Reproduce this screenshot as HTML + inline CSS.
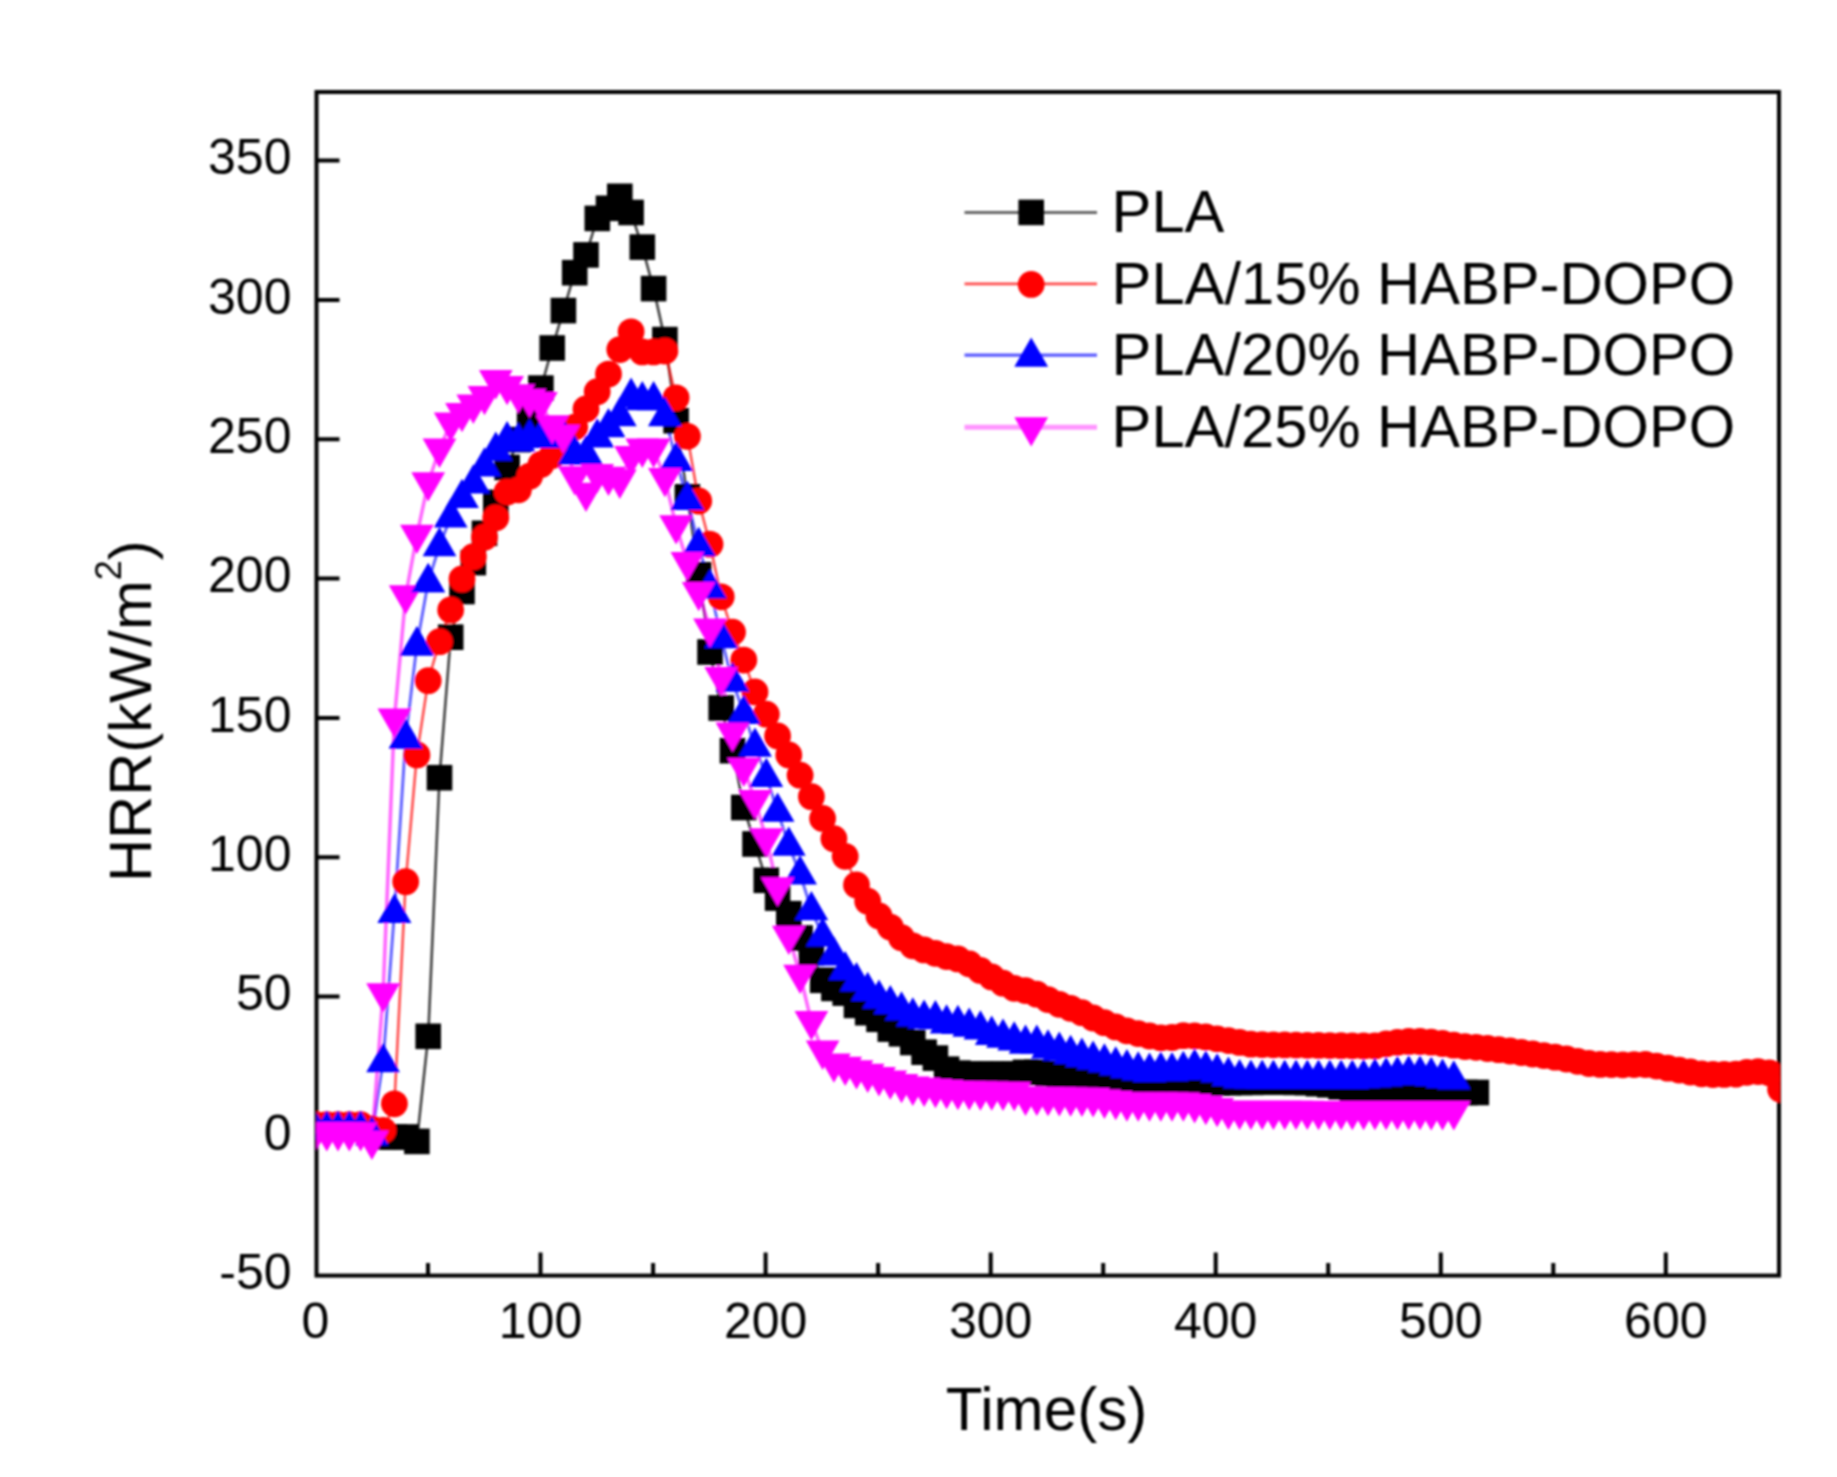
<!DOCTYPE html>
<html><head><meta charset="utf-8"><title>HRR</title><style>html,body{margin:0;padding:0;background:#fff}svg{display:block}</style></head><body>
<svg width="1837" height="1477" viewBox="0 0 1837 1477" font-family="'Liberation Sans', Arial, sans-serif" fill="#000"><defs><clipPath id="c"><rect x="316.5" y="92" width="1463.4" height="1183.6"/></clipPath><filter id="b" x="0" y="0" width="1837" height="1477" filterUnits="userSpaceOnUse"><feGaussianBlur stdDeviation="0.9"/></filter></defs><rect width="1837" height="1477" fill="#fff"/><g filter="url(#b)"><rect x="316.5" y="92" width="1462.5" height="1183.6" fill="none" stroke="#000" stroke-width="4"/>
<path d="M540.5 1275.6v-23M765.6 1275.6v-23M990.7 1275.6v-23M1215.7 1275.6v-23M1440.8 1275.6v-23M1665.8 1275.6v-23M428 1275.6v-12.5M653.1 1275.6v-12.5M878.1 1275.6v-12.5M1103.2 1275.6v-12.5M1328.2 1275.6v-12.5M1553.3 1275.6v-12.5M316.5 1136h23M316.5 996.6h23M316.5 857.3h23M316.5 718h23M316.5 578.6h23M316.5 439.2h23M316.5 299.9h23M316.5 160.6h23" stroke="#000" stroke-width="4" fill="none"/>
<g font-size="50"><text x="315.5" y="1338.3" text-anchor="middle">0</text><text x="540.5" y="1338.3" text-anchor="middle">100</text><text x="765.6" y="1338.3" text-anchor="middle">200</text><text x="990.7" y="1338.3" text-anchor="middle">300</text><text x="1215.7" y="1338.3" text-anchor="middle">400</text><text x="1440.8" y="1338.3" text-anchor="middle">500</text><text x="1665.8" y="1338.3" text-anchor="middle">600</text><text x="291.5" y="1289.1" text-anchor="end">-50</text><text x="291.5" y="1149.8" text-anchor="end">0</text><text x="291.5" y="1010.4" text-anchor="end">50</text><text x="291.5" y="871.1" text-anchor="end">100</text><text x="291.5" y="731.8" text-anchor="end">150</text><text x="291.5" y="592.4" text-anchor="end">200</text><text x="291.5" y="453.1" text-anchor="end">250</text><text x="291.5" y="313.7" text-anchor="end">300</text><text x="291.5" y="174.4" text-anchor="end">350</text></g>
<text x="1046.5" y="1429.5" font-size="60.2" text-anchor="middle">Time(s)</text>
<text transform="translate(151 882) rotate(-90)" font-size="59.7">HRR(kW/m<tspan dy="-30" font-size="36">2</tspan><tspan dy="30">)</tspan></text>
<g clip-path="url(#c)">
<polyline points="315.5,1126.6 326.8,1126.6 338,1126.6 349.3,1126.6 360.6,1128.9 371.9,1131.4 383.1,1137 394.4,1137 405.7,1137 416.9,1141.4 428.2,1036.3 439.5,777.7 450.7,637.2 462,591.5 473.3,562.6 484.5,533.3 495.8,502.4 507.1,467.5 518.4,439.6 529.6,418.7 540.9,388.1 552.2,348 563.4,310.6 574.7,272.7 586,254.9 597.2,218.4 608.5,208.3 619.8,196.3 631.1,212.5 642.3,247.1 653.6,288.6 664.9,339.6 676.1,420.7 687.4,496.8 698.7,574.8 710,652 721.2,708 732.5,750.7 743.8,807.5 755,844 766.3,880.3 777.6,898.1 788.8,913.7 800.1,938 811.4,952.7 822.6,980.3 833.9,988.4 845.2,993.1 856.5,1005.4 867.7,1012.7 879,1019.3 890.3,1029.1 901.5,1033.8 912.8,1042.5 924.1,1052.2 935.4,1058.1 946.6,1069.2 957.9,1073.1 969.2,1074 980.4,1074 991.7,1074 1003,1074 1014.2,1074 1025.5,1072.3 1036.8,1072.3 1048,1073.7 1059.3,1074.5 1070.6,1075.4 1081.9,1076.2 1093.1,1077 1104.4,1077.9 1115.7,1078.7 1126.9,1079.5 1138.2,1080.4 1149.5,1081.2 1160.8,1082 1172,1082.2 1183.3,1082.4 1194.6,1082.5 1205.8,1082.7 1217.1,1082.9 1228.4,1082.7 1239.6,1082.5 1250.9,1082.4 1262.2,1082.2 1273.4,1082 1284.7,1082.2 1296,1082.4 1307.3,1082.6 1318.5,1083.7 1329.8,1084.8 1341.1,1086.9 1352.3,1089 1363.6,1089.5 1374.9,1089.9 1386.1,1090.4 1397.4,1090.8 1408.7,1091.2 1420,1091.6 1431.2,1092 1442.5,1092.4 1453.8,1092.4 1465,1092.5 1476.3,1092.5" fill="none" stroke="#000" stroke-opacity="0.75" stroke-width="2.6"/>
<polyline points="315.5,1124.7 326.8,1124.7 338,1124.7 349.3,1124.7 360.6,1124.7 371.9,1128.9 383.1,1130.3 394.4,1103.8 405.7,881.7 416.9,754.9 428.2,680.7 439.5,641.7 450.7,609.9 462,579 473.3,556.7 484.5,537.2 495.8,517.7 507.1,492 518.4,489.8 529.6,476.2 540.9,464.4 552.2,455.5 563.4,442.4 574.7,427.1 586,409 597.2,391.7 608.5,374.1 619.8,349.6 631.1,331.8 642.3,351.9 653.6,351.9 664.9,351 676.1,397.8 687.4,436.3 698.7,501 710,544.2 721.2,596.8 732.5,632.2 743.8,660.1 755,691.9 766.3,714.2 777.6,735.9 788.8,754.9 800.1,775.2 811.4,796.7 822.6,818.4 833.9,838.7 845.2,856.3 856.5,885 867.7,901.2 879,915.9 890.3,927.1 901.5,937.7 912.8,945.8 924.1,949.9 935.4,953.3 946.6,956.6 957.9,958.9 969.2,963.8 980.4,970.4 991.7,976.9 1003,983.2 1014.2,988.3 1025.5,990.6 1036.8,994.2 1048,999.6 1059.3,1004.3 1070.6,1008.3 1081.9,1012.7 1093.1,1018 1104.4,1022.7 1115.7,1026.9 1126.9,1030.8 1138.2,1033.6 1149.5,1036 1160.8,1037.8 1172,1037.5 1183.3,1035.7 1194.6,1035.9 1205.8,1037 1217.1,1038.8 1228.4,1040.6 1239.6,1042.4 1250.9,1044.2 1262.2,1044.6 1273.4,1044.8 1284.7,1044.9 1296,1045.1 1307.3,1045.3 1318.5,1045.4 1329.8,1045.6 1341.1,1045.7 1352.3,1045.8 1363.6,1046 1374.9,1045.9 1386.1,1043.8 1397.4,1042.3 1408.7,1041.4 1420,1041.5 1431.2,1042.2 1442.5,1043.5 1453.8,1045.2 1465,1046.6 1476.3,1047.3 1487.6,1048.5 1498.8,1049.7 1510.1,1051 1521.4,1052.5 1532.7,1054 1543.9,1055.6 1555.2,1057.2 1566.5,1059 1577.7,1061.3 1589,1063.5 1600.3,1064.4 1611.5,1064.6 1622.8,1064.8 1634.1,1064.6 1645.4,1064.5 1656.6,1066.1 1667.9,1068.2 1679.2,1070.1 1690.4,1072 1701.7,1073.8 1713,1074.5 1724.2,1074.4 1735.5,1074.2 1746.8,1072.3 1758.1,1071.6 1769.3,1072.8 1780.6,1089.3" fill="none" stroke="#f00" stroke-opacity="0.7" stroke-width="2.6"/>
<polyline points="315.5,1129.4 326.8,1129.4 338,1129.4 349.3,1129.4 360.6,1129.4 371.9,1135 383.1,1061.7 394.4,912.6 405.7,737.9 416.9,645 428.2,581.8 439.5,545.8 450.7,517.1 462,497.6 473.3,483.1 484.5,466.1 495.8,450.2 507.1,439.9 518.4,441 529.6,437.4 540.9,437.4 552.2,437.4 563.4,437.4 574.7,453.9 586,454.1 597.2,437.1 608.5,426.8 619.8,415.7 631.1,396.4 642.3,399.8 653.6,399.8 664.9,415.7 676.1,460.5 687.4,499.6 698.7,545.5 710,587.9 721.2,637.8 732.5,681.3 743.8,713.6 755,746.2 766.3,776.6 777.6,811.2 788.8,845.2 800.1,874.1 811.4,909.8 822.6,936 833.9,955 845.2,969.7 856.5,980.9 867.7,990.6 879,998.2 890.3,1003.7 901.5,1010.1 912.8,1016 924.1,1018.2 935.4,1018.8 946.6,1023 957.9,1023.5 969.2,1026.3 980.4,1029.1 991.7,1034.4 1003,1037.2 1014.2,1040 1025.5,1043.3 1036.8,1043.3 1048,1048 1059.3,1050.3 1070.6,1053.6 1081.9,1056.4 1093.1,1059.2 1104.4,1062.1 1115.7,1065 1126.9,1067.8 1138.2,1070.1 1149.5,1071.4 1160.8,1070.4 1172,1070.8 1183.3,1069.5 1194.6,1067.2 1205.8,1069.2 1217.1,1072 1228.4,1075.4 1239.6,1077.9 1250.9,1078.2 1262.2,1078.4 1273.4,1078.4 1284.7,1078.4 1296,1078.4 1307.3,1078.4 1318.5,1078.4 1329.8,1078.4 1341.1,1078.4 1352.3,1078.4 1363.6,1077.8 1374.9,1076.9 1386.1,1075.9 1397.4,1074.8 1408.7,1074 1420,1074.2 1431.2,1075.5 1442.5,1077.4 1453.8,1079" fill="none" stroke="#00f" stroke-opacity="0.62" stroke-width="3"/>
<polyline points="315.5,1132.8 326.8,1132.8 338,1132.8 349.3,1132.8 360.6,1132.8 371.9,1141.1 383.1,993.7 394.4,718.9 405.7,595.7 416.9,535.2 428.2,482.8 439.5,449.1 450.7,422.9 462,413.4 473.3,405.1 484.5,396.4 495.8,380.6 507.1,386.4 518.4,394.8 529.6,399.2 540.9,402.6 552.2,425.7 563.4,435.2 574.7,476.7 586,493.2 597.2,474.5 608.5,477.3 619.8,480.1 631.1,456.6 642.3,449.1 653.6,449.1 664.9,478.4 676.1,525.8 687.4,562.6 698.7,592.4 710,628.9 721.2,677.4 732.5,733.1 743.8,768.2 755,800.6 766.3,838.7 777.6,887.8 788.8,936.3 800.1,975.3 811.4,1021.6 822.6,1051.1 833.9,1063.9 845.2,1067.3 856.5,1070.8 867.7,1074.2 879,1077.6 890.3,1081 901.5,1084.4 912.8,1087.1 924.1,1088.3 935.4,1089.4 946.6,1090.5 957.9,1091.5 969.2,1091.7 980.4,1091.9 991.7,1092 1003,1092.2 1014.2,1092.4 1025.5,1097.1 1036.8,1097.3 1048,1097.5 1059.3,1097.7 1070.6,1097.9 1081.9,1098.1 1093.1,1098.6 1104.4,1100.1 1115.7,1101.5 1126.9,1102.9 1138.2,1102.9 1149.5,1102.9 1160.8,1102.9 1172,1102.9 1183.3,1102.9 1194.6,1104.6 1205.8,1106.5 1217.1,1108.5 1228.4,1111.3 1239.6,1111.3 1250.9,1111.3 1262.2,1111.3 1273.4,1111.3 1284.7,1111.3 1296,1111.3 1307.3,1111.3 1318.5,1111.4 1329.8,1111.4 1341.1,1111.4 1352.3,1111.4 1363.6,1111.4 1374.9,1111.5 1386.1,1111.5 1397.4,1111.5 1408.7,1111.5 1420,1111.5 1431.2,1111.6 1442.5,1111.6 1453.8,1111.6" fill="none" stroke="#f0f" stroke-opacity="0.6" stroke-width="3.6"/>
<g fill="#000"><rect x="302.7" y="1113.8" width="25.6" height="25.6"/><rect x="314" y="1113.8" width="25.6" height="25.6"/><rect x="325.2" y="1113.8" width="25.6" height="25.6"/><rect x="336.5" y="1113.8" width="25.6" height="25.6"/><rect x="347.8" y="1116.1" width="25.6" height="25.6"/><rect x="359.1" y="1118.6" width="25.6" height="25.6"/><rect x="370.3" y="1124.2" width="25.6" height="25.6"/><rect x="381.6" y="1124.2" width="25.6" height="25.6"/><rect x="392.9" y="1124.2" width="25.6" height="25.6"/><rect x="404.1" y="1128.6" width="25.6" height="25.6"/><rect x="415.4" y="1023.5" width="25.6" height="25.6"/><rect x="426.7" y="764.9" width="25.6" height="25.6"/><rect x="437.9" y="624.4" width="25.6" height="25.6"/><rect x="449.2" y="578.7" width="25.6" height="25.6"/><rect x="460.5" y="549.8" width="25.6" height="25.6"/><rect x="471.7" y="520.5" width="25.6" height="25.6"/><rect x="483" y="489.6" width="25.6" height="25.6"/><rect x="494.3" y="454.7" width="25.6" height="25.6"/><rect x="505.6" y="426.8" width="25.6" height="25.6"/><rect x="516.8" y="405.9" width="25.6" height="25.6"/><rect x="528.1" y="375.3" width="25.6" height="25.6"/><rect x="539.4" y="335.2" width="25.6" height="25.6"/><rect x="550.6" y="297.8" width="25.6" height="25.6"/><rect x="561.9" y="259.9" width="25.6" height="25.6"/><rect x="573.2" y="242.1" width="25.6" height="25.6"/><rect x="584.5" y="205.6" width="25.6" height="25.6"/><rect x="595.7" y="195.5" width="25.6" height="25.6"/><rect x="607" y="183.5" width="25.6" height="25.6"/><rect x="618.3" y="199.7" width="25.6" height="25.6"/><rect x="629.5" y="234.3" width="25.6" height="25.6"/><rect x="640.8" y="275.8" width="25.6" height="25.6"/><rect x="652.1" y="326.8" width="25.6" height="25.6"/><rect x="663.3" y="407.9" width="25.6" height="25.6"/><rect x="674.6" y="484" width="25.6" height="25.6"/><rect x="685.9" y="562" width="25.6" height="25.6"/><rect x="697.2" y="639.2" width="25.6" height="25.6"/><rect x="708.4" y="695.2" width="25.6" height="25.6"/><rect x="719.7" y="737.9" width="25.6" height="25.6"/><rect x="731" y="794.7" width="25.6" height="25.6"/><rect x="742.2" y="831.2" width="25.6" height="25.6"/><rect x="753.5" y="867.5" width="25.6" height="25.6"/><rect x="764.8" y="885.3" width="25.6" height="25.6"/><rect x="776" y="900.9" width="25.6" height="25.6"/><rect x="787.3" y="925.2" width="25.6" height="25.6"/><rect x="798.6" y="939.9" width="25.6" height="25.6"/><rect x="809.9" y="967.5" width="25.6" height="25.6"/><rect x="821.1" y="975.6" width="25.6" height="25.6"/><rect x="832.4" y="980.3" width="25.6" height="25.6"/><rect x="843.7" y="992.6" width="25.6" height="25.6"/><rect x="854.9" y="999.9" width="25.6" height="25.6"/><rect x="866.2" y="1006.5" width="25.6" height="25.6"/><rect x="877.5" y="1016.3" width="25.6" height="25.6"/><rect x="888.7" y="1021" width="25.6" height="25.6"/><rect x="900" y="1029.7" width="25.6" height="25.6"/><rect x="911.3" y="1039.4" width="25.6" height="25.6"/><rect x="922.6" y="1045.3" width="25.6" height="25.6"/><rect x="933.8" y="1056.4" width="25.6" height="25.6"/><rect x="945.1" y="1060.3" width="25.6" height="25.6"/><rect x="956.4" y="1061.2" width="25.6" height="25.6"/><rect x="967.6" y="1061.2" width="25.6" height="25.6"/><rect x="978.9" y="1061.2" width="25.6" height="25.6"/><rect x="990.2" y="1061.2" width="25.6" height="25.6"/><rect x="1001.4" y="1061.2" width="25.6" height="25.6"/><rect x="1012.7" y="1059.5" width="25.6" height="25.6"/><rect x="1024" y="1059.5" width="25.6" height="25.6"/><rect x="1035.2" y="1060.9" width="25.6" height="25.6"/><rect x="1046.5" y="1061.7" width="25.6" height="25.6"/><rect x="1057.8" y="1062.6" width="25.6" height="25.6"/><rect x="1069.1" y="1063.4" width="25.6" height="25.6"/><rect x="1080.3" y="1064.2" width="25.6" height="25.6"/><rect x="1091.6" y="1065.1" width="25.6" height="25.6"/><rect x="1102.9" y="1065.9" width="25.6" height="25.6"/><rect x="1114.1" y="1066.7" width="25.6" height="25.6"/><rect x="1125.4" y="1067.6" width="25.6" height="25.6"/><rect x="1136.7" y="1068.4" width="25.6" height="25.6"/><rect x="1148" y="1069.2" width="25.6" height="25.6"/><rect x="1159.2" y="1069.4" width="25.6" height="25.6"/><rect x="1170.5" y="1069.6" width="25.6" height="25.6"/><rect x="1181.8" y="1069.7" width="25.6" height="25.6"/><rect x="1193" y="1069.9" width="25.6" height="25.6"/><rect x="1204.3" y="1070.1" width="25.6" height="25.6"/><rect x="1215.6" y="1069.9" width="25.6" height="25.6"/><rect x="1226.8" y="1069.7" width="25.6" height="25.6"/><rect x="1238.1" y="1069.6" width="25.6" height="25.6"/><rect x="1249.4" y="1069.4" width="25.6" height="25.6"/><rect x="1260.6" y="1069.2" width="25.6" height="25.6"/><rect x="1271.9" y="1069.4" width="25.6" height="25.6"/><rect x="1283.2" y="1069.6" width="25.6" height="25.6"/><rect x="1294.5" y="1069.8" width="25.6" height="25.6"/><rect x="1305.7" y="1070.9" width="25.6" height="25.6"/><rect x="1317" y="1072" width="25.6" height="25.6"/><rect x="1328.3" y="1074.1" width="25.6" height="25.6"/><rect x="1339.5" y="1076.2" width="25.6" height="25.6"/><rect x="1350.8" y="1076.7" width="25.6" height="25.6"/><rect x="1362.1" y="1077.1" width="25.6" height="25.6"/><rect x="1373.3" y="1077.6" width="25.6" height="25.6"/><rect x="1384.6" y="1078" width="25.6" height="25.6"/><rect x="1395.9" y="1078.4" width="25.6" height="25.6"/><rect x="1407.2" y="1078.8" width="25.6" height="25.6"/><rect x="1418.4" y="1079.2" width="25.6" height="25.6"/><rect x="1429.7" y="1079.6" width="25.6" height="25.6"/><rect x="1441" y="1079.6" width="25.6" height="25.6"/><rect x="1452.2" y="1079.7" width="25.6" height="25.6"/><rect x="1463.5" y="1079.7" width="25.6" height="25.6"/></g>
<g fill="#f00"><circle cx="315.5" cy="1124.7" r="13.4"/><circle cx="326.8" cy="1124.7" r="13.4"/><circle cx="338" cy="1124.7" r="13.4"/><circle cx="349.3" cy="1124.7" r="13.4"/><circle cx="360.6" cy="1124.7" r="13.4"/><circle cx="371.9" cy="1128.9" r="13.4"/><circle cx="383.1" cy="1130.3" r="13.4"/><circle cx="394.4" cy="1103.8" r="13.4"/><circle cx="405.7" cy="881.7" r="13.4"/><circle cx="416.9" cy="754.9" r="13.4"/><circle cx="428.2" cy="680.7" r="13.4"/><circle cx="439.5" cy="641.7" r="13.4"/><circle cx="450.7" cy="609.9" r="13.4"/><circle cx="462" cy="579" r="13.4"/><circle cx="473.3" cy="556.7" r="13.4"/><circle cx="484.5" cy="537.2" r="13.4"/><circle cx="495.8" cy="517.7" r="13.4"/><circle cx="507.1" cy="492" r="13.4"/><circle cx="518.4" cy="489.8" r="13.4"/><circle cx="529.6" cy="476.2" r="13.4"/><circle cx="540.9" cy="464.4" r="13.4"/><circle cx="552.2" cy="455.5" r="13.4"/><circle cx="563.4" cy="442.4" r="13.4"/><circle cx="574.7" cy="427.1" r="13.4"/><circle cx="586" cy="409" r="13.4"/><circle cx="597.2" cy="391.7" r="13.4"/><circle cx="608.5" cy="374.1" r="13.4"/><circle cx="619.8" cy="349.6" r="13.4"/><circle cx="631.1" cy="331.8" r="13.4"/><circle cx="642.3" cy="351.9" r="13.4"/><circle cx="653.6" cy="351.9" r="13.4"/><circle cx="664.9" cy="351" r="13.4"/><circle cx="676.1" cy="397.8" r="13.4"/><circle cx="687.4" cy="436.3" r="13.4"/><circle cx="698.7" cy="501" r="13.4"/><circle cx="710" cy="544.2" r="13.4"/><circle cx="721.2" cy="596.8" r="13.4"/><circle cx="732.5" cy="632.2" r="13.4"/><circle cx="743.8" cy="660.1" r="13.4"/><circle cx="755" cy="691.9" r="13.4"/><circle cx="766.3" cy="714.2" r="13.4"/><circle cx="777.6" cy="735.9" r="13.4"/><circle cx="788.8" cy="754.9" r="13.4"/><circle cx="800.1" cy="775.2" r="13.4"/><circle cx="811.4" cy="796.7" r="13.4"/><circle cx="822.6" cy="818.4" r="13.4"/><circle cx="833.9" cy="838.7" r="13.4"/><circle cx="845.2" cy="856.3" r="13.4"/><circle cx="856.5" cy="885" r="13.4"/><circle cx="867.7" cy="901.2" r="13.4"/><circle cx="879" cy="915.9" r="13.4"/><circle cx="890.3" cy="927.1" r="13.4"/><circle cx="901.5" cy="937.7" r="13.4"/><circle cx="912.8" cy="945.8" r="13.4"/><circle cx="924.1" cy="949.9" r="13.4"/><circle cx="935.4" cy="953.3" r="13.4"/><circle cx="946.6" cy="956.6" r="13.4"/><circle cx="957.9" cy="958.9" r="13.4"/><circle cx="969.2" cy="963.8" r="13.4"/><circle cx="980.4" cy="970.4" r="13.4"/><circle cx="991.7" cy="976.9" r="13.4"/><circle cx="1003" cy="983.2" r="13.4"/><circle cx="1014.2" cy="988.3" r="13.4"/><circle cx="1025.5" cy="990.6" r="13.4"/><circle cx="1036.8" cy="994.2" r="13.4"/><circle cx="1048" cy="999.6" r="13.4"/><circle cx="1059.3" cy="1004.3" r="13.4"/><circle cx="1070.6" cy="1008.3" r="13.4"/><circle cx="1081.9" cy="1012.7" r="13.4"/><circle cx="1093.1" cy="1018" r="13.4"/><circle cx="1104.4" cy="1022.7" r="13.4"/><circle cx="1115.7" cy="1026.9" r="13.4"/><circle cx="1126.9" cy="1030.8" r="13.4"/><circle cx="1138.2" cy="1033.6" r="13.4"/><circle cx="1149.5" cy="1036" r="13.4"/><circle cx="1160.8" cy="1037.8" r="13.4"/><circle cx="1172" cy="1037.5" r="13.4"/><circle cx="1183.3" cy="1035.7" r="13.4"/><circle cx="1194.6" cy="1035.9" r="13.4"/><circle cx="1205.8" cy="1037" r="13.4"/><circle cx="1217.1" cy="1038.8" r="13.4"/><circle cx="1228.4" cy="1040.6" r="13.4"/><circle cx="1239.6" cy="1042.4" r="13.4"/><circle cx="1250.9" cy="1044.2" r="13.4"/><circle cx="1262.2" cy="1044.6" r="13.4"/><circle cx="1273.4" cy="1044.8" r="13.4"/><circle cx="1284.7" cy="1044.9" r="13.4"/><circle cx="1296" cy="1045.1" r="13.4"/><circle cx="1307.3" cy="1045.3" r="13.4"/><circle cx="1318.5" cy="1045.4" r="13.4"/><circle cx="1329.8" cy="1045.6" r="13.4"/><circle cx="1341.1" cy="1045.7" r="13.4"/><circle cx="1352.3" cy="1045.8" r="13.4"/><circle cx="1363.6" cy="1046" r="13.4"/><circle cx="1374.9" cy="1045.9" r="13.4"/><circle cx="1386.1" cy="1043.8" r="13.4"/><circle cx="1397.4" cy="1042.3" r="13.4"/><circle cx="1408.7" cy="1041.4" r="13.4"/><circle cx="1420" cy="1041.5" r="13.4"/><circle cx="1431.2" cy="1042.2" r="13.4"/><circle cx="1442.5" cy="1043.5" r="13.4"/><circle cx="1453.8" cy="1045.2" r="13.4"/><circle cx="1465" cy="1046.6" r="13.4"/><circle cx="1476.3" cy="1047.3" r="13.4"/><circle cx="1487.6" cy="1048.5" r="13.4"/><circle cx="1498.8" cy="1049.7" r="13.4"/><circle cx="1510.1" cy="1051" r="13.4"/><circle cx="1521.4" cy="1052.5" r="13.4"/><circle cx="1532.7" cy="1054" r="13.4"/><circle cx="1543.9" cy="1055.6" r="13.4"/><circle cx="1555.2" cy="1057.2" r="13.4"/><circle cx="1566.5" cy="1059" r="13.4"/><circle cx="1577.7" cy="1061.3" r="13.4"/><circle cx="1589" cy="1063.5" r="13.4"/><circle cx="1600.3" cy="1064.4" r="13.4"/><circle cx="1611.5" cy="1064.6" r="13.4"/><circle cx="1622.8" cy="1064.8" r="13.4"/><circle cx="1634.1" cy="1064.6" r="13.4"/><circle cx="1645.4" cy="1064.5" r="13.4"/><circle cx="1656.6" cy="1066.1" r="13.4"/><circle cx="1667.9" cy="1068.2" r="13.4"/><circle cx="1679.2" cy="1070.1" r="13.4"/><circle cx="1690.4" cy="1072" r="13.4"/><circle cx="1701.7" cy="1073.8" r="13.4"/><circle cx="1713" cy="1074.5" r="13.4"/><circle cx="1724.2" cy="1074.4" r="13.4"/><circle cx="1735.5" cy="1074.2" r="13.4"/><circle cx="1746.8" cy="1072.3" r="13.4"/><circle cx="1758.1" cy="1071.6" r="13.4"/><circle cx="1769.3" cy="1072.8" r="13.4"/><circle cx="1780.6" cy="1089.3" r="13.4"/></g>
<g fill="#00f"><path d="M315.5 1110.6L332.4 1139.9L298.6 1139.9Z"/><path d="M326.8 1110.6L343.7 1139.9L309.9 1139.9Z"/><path d="M338 1110.6L354.9 1139.9L321.1 1139.9Z"/><path d="M349.3 1110.6L366.2 1139.9L332.4 1139.9Z"/><path d="M360.6 1110.6L377.5 1139.9L343.7 1139.9Z"/><path d="M371.9 1116.2L388.8 1145.5L355 1145.5Z"/><path d="M383.1 1042.9L400 1072.2L366.2 1072.2Z"/><path d="M394.4 893.8L411.3 923.1L377.5 923.1Z"/><path d="M405.7 719.1L422.6 748.4L388.8 748.4Z"/><path d="M416.9 626.2L433.8 655.5L400 655.5Z"/><path d="M428.2 563L445.1 592.3L411.3 592.3Z"/><path d="M439.5 527L456.4 556.3L422.6 556.3Z"/><path d="M450.7 498.3L467.6 527.6L433.8 527.6Z"/><path d="M462 478.8L478.9 508.1L445.1 508.1Z"/><path d="M473.3 464.3L490.2 493.6L456.4 493.6Z"/><path d="M484.5 447.3L501.4 476.6L467.6 476.6Z"/><path d="M495.8 431.4L512.7 460.7L478.9 460.7Z"/><path d="M507.1 421.1L524 450.4L490.2 450.4Z"/><path d="M518.4 422.2L535.3 451.5L501.5 451.5Z"/><path d="M529.6 418.6L546.5 447.9L512.7 447.9Z"/><path d="M540.9 418.6L557.8 447.9L524 447.9Z"/><path d="M552.2 418.6L569.1 447.9L535.3 447.9Z"/><path d="M563.4 418.6L580.3 447.9L546.5 447.9Z"/><path d="M574.7 435.1L591.6 464.4L557.8 464.4Z"/><path d="M586 435.3L602.9 464.6L569.1 464.6Z"/><path d="M597.2 418.3L614.1 447.6L580.4 447.6Z"/><path d="M608.5 408L625.4 437.3L591.6 437.3Z"/><path d="M619.8 396.9L636.7 426.2L602.9 426.2Z"/><path d="M631.1 377.6L648 406.9L614.2 406.9Z"/><path d="M642.3 381L659.2 410.3L625.4 410.3Z"/><path d="M653.6 381L670.5 410.3L636.7 410.3Z"/><path d="M664.9 396.9L681.8 426.2L648 426.2Z"/><path d="M676.1 441.7L693 471L659.2 471Z"/><path d="M687.4 480.8L704.3 510.1L670.5 510.1Z"/><path d="M698.7 526.7L715.6 556L681.8 556Z"/><path d="M710 569.1L726.9 598.4L693.1 598.4Z"/><path d="M721.2 619L738.1 648.3L704.3 648.3Z"/><path d="M732.5 662.5L749.4 691.8L715.6 691.8Z"/><path d="M743.8 694.8L760.7 724.1L726.9 724.1Z"/><path d="M755 727.4L771.9 756.7L738.1 756.7Z"/><path d="M766.3 757.8L783.2 787.1L749.4 787.1Z"/><path d="M777.6 792.4L794.5 821.7L760.7 821.7Z"/><path d="M788.8 826.4L805.7 855.7L771.9 855.7Z"/><path d="M800.1 855.3L817 884.6L783.2 884.6Z"/><path d="M811.4 891L828.3 920.3L794.5 920.3Z"/><path d="M822.6 917.2L839.5 946.5L805.8 946.5Z"/><path d="M833.9 936.2L850.8 965.5L817 965.5Z"/><path d="M845.2 950.9L862.1 980.2L828.3 980.2Z"/><path d="M856.5 962.1L873.4 991.4L839.6 991.4Z"/><path d="M867.7 971.8L884.6 1001.1L850.8 1001.1Z"/><path d="M879 979.4L895.9 1008.7L862.1 1008.7Z"/><path d="M890.3 984.9L907.2 1014.2L873.4 1014.2Z"/><path d="M901.5 991.3L918.4 1020.6L884.6 1020.6Z"/><path d="M912.8 997.2L929.7 1026.5L895.9 1026.5Z"/><path d="M924.1 999.4L941 1028.7L907.2 1028.7Z"/><path d="M935.4 1000L952.2 1029.3L918.5 1029.3Z"/><path d="M946.6 1004.2L963.5 1033.5L929.7 1033.5Z"/><path d="M957.9 1004.7L974.8 1034L941 1034Z"/><path d="M969.2 1007.5L986.1 1036.8L952.3 1036.8Z"/><path d="M980.4 1010.3L997.3 1039.6L963.5 1039.6Z"/><path d="M991.7 1015.6L1008.6 1044.9L974.8 1044.9Z"/><path d="M1003 1018.4L1019.9 1047.7L986.1 1047.7Z"/><path d="M1014.2 1021.2L1031.1 1050.5L997.3 1050.5Z"/><path d="M1025.5 1024.5L1042.4 1053.8L1008.6 1053.8Z"/><path d="M1036.8 1024.5L1053.7 1053.8L1019.9 1053.8Z"/><path d="M1048 1029.2L1065 1058.5L1031.1 1058.5Z"/><path d="M1059.3 1031.5L1076.2 1060.8L1042.4 1060.8Z"/><path d="M1070.6 1034.8L1087.5 1064.1L1053.7 1064.1Z"/><path d="M1081.9 1037.6L1098.8 1066.9L1065 1066.9Z"/><path d="M1093.1 1040.4L1110 1069.7L1076.2 1069.7Z"/><path d="M1104.4 1043.3L1121.3 1072.6L1087.5 1072.6Z"/><path d="M1115.7 1046.2L1132.6 1075.5L1098.8 1075.5Z"/><path d="M1126.9 1049L1143.8 1078.3L1110 1078.3Z"/><path d="M1138.2 1051.3L1155.1 1080.6L1121.3 1080.6Z"/><path d="M1149.5 1052.6L1166.4 1081.9L1132.6 1081.9Z"/><path d="M1160.8 1051.6L1177.7 1080.9L1143.8 1080.9Z"/><path d="M1172 1052L1188.9 1081.3L1155.1 1081.3Z"/><path d="M1183.3 1050.7L1200.2 1080L1166.4 1080Z"/><path d="M1194.6 1048.4L1211.5 1077.7L1177.7 1077.7Z"/><path d="M1205.8 1050.4L1222.7 1079.7L1188.9 1079.7Z"/><path d="M1217.1 1053.2L1234 1082.5L1200.2 1082.5Z"/><path d="M1228.4 1056.6L1245.3 1085.9L1211.5 1085.9Z"/><path d="M1239.6 1059.1L1256.5 1088.4L1222.7 1088.4Z"/><path d="M1250.9 1059.4L1267.8 1088.7L1234 1088.7Z"/><path d="M1262.2 1059.6L1279.1 1088.9L1245.3 1088.9Z"/><path d="M1273.4 1059.6L1290.3 1088.9L1256.5 1088.9Z"/><path d="M1284.7 1059.6L1301.6 1088.9L1267.8 1088.9Z"/><path d="M1296 1059.6L1312.9 1088.9L1279.1 1088.9Z"/><path d="M1307.3 1059.6L1324.2 1088.9L1290.4 1088.9Z"/><path d="M1318.5 1059.6L1335.4 1088.9L1301.6 1088.9Z"/><path d="M1329.8 1059.6L1346.7 1088.9L1312.9 1088.9Z"/><path d="M1341.1 1059.6L1358 1088.9L1324.2 1088.9Z"/><path d="M1352.3 1059.6L1369.2 1088.9L1335.4 1088.9Z"/><path d="M1363.6 1059L1380.5 1088.3L1346.7 1088.3Z"/><path d="M1374.9 1058.1L1391.8 1087.4L1358 1087.4Z"/><path d="M1386.1 1057.1L1403 1086.4L1369.2 1086.4Z"/><path d="M1397.4 1056L1414.3 1085.3L1380.5 1085.3Z"/><path d="M1408.7 1055.2L1425.6 1084.5L1391.8 1084.5Z"/><path d="M1420 1055.4L1436.9 1084.7L1403.1 1084.7Z"/><path d="M1431.2 1056.7L1448.1 1086L1414.3 1086Z"/><path d="M1442.5 1058.6L1459.4 1087.9L1425.6 1087.9Z"/><path d="M1453.8 1060.2L1470.7 1089.5L1436.9 1089.5Z"/></g>
<g fill="#f0f"><path d="M298.6 1122.3L332.4 1122.3L315.5 1151.6Z"/><path d="M309.9 1122.3L343.7 1122.3L326.8 1151.6Z"/><path d="M321.1 1122.3L354.9 1122.3L338 1151.6Z"/><path d="M332.4 1122.3L366.2 1122.3L349.3 1151.6Z"/><path d="M343.7 1122.3L377.5 1122.3L360.6 1151.6Z"/><path d="M355 1130.6L388.8 1130.6L371.9 1159.9Z"/><path d="M366.2 983.2L400 983.2L383.1 1012.5Z"/><path d="M377.5 708.4L411.3 708.4L394.4 737.7Z"/><path d="M388.8 585.2L422.6 585.2L405.7 614.5Z"/><path d="M400 524.7L433.8 524.7L416.9 554Z"/><path d="M411.3 472.3L445.1 472.3L428.2 501.6Z"/><path d="M422.6 438.6L456.4 438.6L439.5 467.9Z"/><path d="M433.8 412.4L467.6 412.4L450.7 441.7Z"/><path d="M445.1 402.9L478.9 402.9L462 432.2Z"/><path d="M456.4 394.6L490.2 394.6L473.3 423.9Z"/><path d="M467.6 385.9L501.4 385.9L484.5 415.2Z"/><path d="M478.9 370.1L512.7 370.1L495.8 399.4Z"/><path d="M490.2 375.9L524 375.9L507.1 405.2Z"/><path d="M501.5 384.3L535.3 384.3L518.4 413.6Z"/><path d="M512.7 388.7L546.5 388.7L529.6 418Z"/><path d="M524 392.1L557.8 392.1L540.9 421.4Z"/><path d="M535.3 415.2L569.1 415.2L552.2 444.5Z"/><path d="M546.5 424.7L580.3 424.7L563.4 454Z"/><path d="M557.8 466.2L591.6 466.2L574.7 495.5Z"/><path d="M569.1 482.7L602.9 482.7L586 512Z"/><path d="M580.4 464L614.1 464L597.2 493.3Z"/><path d="M591.6 466.8L625.4 466.8L608.5 496.1Z"/><path d="M602.9 469.6L636.7 469.6L619.8 498.9Z"/><path d="M614.2 446.1L648 446.1L631.1 475.4Z"/><path d="M625.4 438.6L659.2 438.6L642.3 467.9Z"/><path d="M636.7 438.6L670.5 438.6L653.6 467.9Z"/><path d="M648 467.9L681.8 467.9L664.9 497.2Z"/><path d="M659.2 515.3L693 515.3L676.1 544.6Z"/><path d="M670.5 552.1L704.3 552.1L687.4 581.4Z"/><path d="M681.8 581.9L715.6 581.9L698.7 611.2Z"/><path d="M693.1 618.4L726.9 618.4L710 647.7Z"/><path d="M704.3 666.9L738.1 666.9L721.2 696.2Z"/><path d="M715.6 722.6L749.4 722.6L732.5 751.9Z"/><path d="M726.9 757.7L760.7 757.7L743.8 787Z"/><path d="M738.1 790.1L771.9 790.1L755 819.4Z"/><path d="M749.4 828.2L783.2 828.2L766.3 857.5Z"/><path d="M760.7 877.3L794.5 877.3L777.6 906.6Z"/><path d="M771.9 925.8L805.7 925.8L788.8 955.1Z"/><path d="M783.2 964.8L817 964.8L800.1 994.1Z"/><path d="M794.5 1011.1L828.3 1011.1L811.4 1040.4Z"/><path d="M805.8 1040.6L839.5 1040.6L822.6 1069.9Z"/><path d="M817 1053.4L850.8 1053.4L833.9 1082.7Z"/><path d="M828.3 1056.8L862.1 1056.8L845.2 1086.1Z"/><path d="M839.6 1060.3L873.4 1060.3L856.5 1089.6Z"/><path d="M850.8 1063.7L884.6 1063.7L867.7 1093Z"/><path d="M862.1 1067.1L895.9 1067.1L879 1096.4Z"/><path d="M873.4 1070.5L907.2 1070.5L890.3 1099.8Z"/><path d="M884.6 1073.9L918.4 1073.9L901.5 1103.2Z"/><path d="M895.9 1076.6L929.7 1076.6L912.8 1105.9Z"/><path d="M907.2 1077.8L941 1077.8L924.1 1107.1Z"/><path d="M918.5 1078.9L952.2 1078.9L935.4 1108.2Z"/><path d="M929.7 1080L963.5 1080L946.6 1109.3Z"/><path d="M941 1081L974.8 1081L957.9 1110.3Z"/><path d="M952.3 1081.2L986.1 1081.2L969.2 1110.5Z"/><path d="M963.5 1081.4L997.3 1081.4L980.4 1110.7Z"/><path d="M974.8 1081.5L1008.6 1081.5L991.7 1110.8Z"/><path d="M986.1 1081.7L1019.9 1081.7L1003 1111Z"/><path d="M997.3 1081.9L1031.1 1081.9L1014.2 1111.2Z"/><path d="M1008.6 1086.6L1042.4 1086.6L1025.5 1115.9Z"/><path d="M1019.9 1086.8L1053.7 1086.8L1036.8 1116.1Z"/><path d="M1031.1 1087L1065 1087L1048 1116.3Z"/><path d="M1042.4 1087.2L1076.2 1087.2L1059.3 1116.5Z"/><path d="M1053.7 1087.4L1087.5 1087.4L1070.6 1116.7Z"/><path d="M1065 1087.6L1098.8 1087.6L1081.9 1116.9Z"/><path d="M1076.2 1088.1L1110 1088.1L1093.1 1117.4Z"/><path d="M1087.5 1089.6L1121.3 1089.6L1104.4 1118.9Z"/><path d="M1098.8 1091L1132.6 1091L1115.7 1120.3Z"/><path d="M1110 1092.4L1143.8 1092.4L1126.9 1121.7Z"/><path d="M1121.3 1092.4L1155.1 1092.4L1138.2 1121.7Z"/><path d="M1132.6 1092.4L1166.4 1092.4L1149.5 1121.7Z"/><path d="M1143.8 1092.4L1177.7 1092.4L1160.8 1121.7Z"/><path d="M1155.1 1092.4L1188.9 1092.4L1172 1121.7Z"/><path d="M1166.4 1092.4L1200.2 1092.4L1183.3 1121.7Z"/><path d="M1177.7 1094.1L1211.5 1094.1L1194.6 1123.4Z"/><path d="M1188.9 1096L1222.7 1096L1205.8 1125.3Z"/><path d="M1200.2 1098L1234 1098L1217.1 1127.3Z"/><path d="M1211.5 1100.8L1245.3 1100.8L1228.4 1130.1Z"/><path d="M1222.7 1100.8L1256.5 1100.8L1239.6 1130.1Z"/><path d="M1234 1100.8L1267.8 1100.8L1250.9 1130.1Z"/><path d="M1245.3 1100.8L1279.1 1100.8L1262.2 1130.1Z"/><path d="M1256.5 1100.8L1290.3 1100.8L1273.4 1130.1Z"/><path d="M1267.8 1100.8L1301.6 1100.8L1284.7 1130.1Z"/><path d="M1279.1 1100.8L1312.9 1100.8L1296 1130.1Z"/><path d="M1290.4 1100.8L1324.2 1100.8L1307.3 1130.1Z"/><path d="M1301.6 1100.9L1335.4 1100.9L1318.5 1130.2Z"/><path d="M1312.9 1100.9L1346.7 1100.9L1329.8 1130.2Z"/><path d="M1324.2 1100.9L1358 1100.9L1341.1 1130.2Z"/><path d="M1335.4 1100.9L1369.2 1100.9L1352.3 1130.2Z"/><path d="M1346.7 1100.9L1380.5 1100.9L1363.6 1130.2Z"/><path d="M1358 1101L1391.8 1101L1374.9 1130.3Z"/><path d="M1369.2 1101L1403 1101L1386.1 1130.3Z"/><path d="M1380.5 1101L1414.3 1101L1397.4 1130.3Z"/><path d="M1391.8 1101L1425.6 1101L1408.7 1130.3Z"/><path d="M1403.1 1101L1436.9 1101L1420 1130.3Z"/><path d="M1414.3 1101.1L1448.1 1101.1L1431.2 1130.4Z"/><path d="M1425.6 1101.1L1459.4 1101.1L1442.5 1130.4Z"/><path d="M1436.9 1101.1L1470.7 1101.1L1453.8 1130.4Z"/></g>
<g fill="#00f"><path d="M394.4 893.8L411.3 923.1L377.5 923.1Z"/><path d="M405.7 719.1L422.6 748.4L388.8 748.4Z"/><path d="M416.9 626.2L433.8 655.5L400 655.5Z"/><path d="M428.2 563L445.1 592.3L411.3 592.3Z"/></g>
</g>
<path d="M964.5 212.4H1097" stroke="#000" stroke-opacity="0.6" stroke-width="3"/>
<path d="M964.5 283.9H1097" stroke="#f00" stroke-opacity="0.7" stroke-width="2.8"/>
<path d="M964.5 355.2H1097" stroke="#00f" stroke-opacity="0.65" stroke-width="3.2"/>
<path d="M964.5 427.2H1097" stroke="#f0f" stroke-opacity="0.42" stroke-width="5"/>
<g fill="#000"><rect x="1018.4" y="199.6" width="25.6" height="25.6"/></g>
<g fill="#f00"><circle cx="1031.2" cy="284.4" r="13.4"/></g>
<g fill="#00f"><path d="M1031.2 337.4L1048.1 366.7L1014.3 366.7Z"/></g>
<g fill="#f0f"><path d="M1014.3 417.2L1048.1 417.2L1031.2 446.5Z"/></g>
<text x="1111.6" y="232.4" font-size="59.7">PLA</text>
<text x="1111.6" y="303.9" font-size="59.7">PLA/15% HABP-DOPO</text>
<text x="1111.6" y="375.2" font-size="59.7">PLA/20% HABP-DOPO</text>
<text x="1111.6" y="447.2" font-size="59.7">PLA/25% HABP-DOPO</text></g></svg>
</body></html>
